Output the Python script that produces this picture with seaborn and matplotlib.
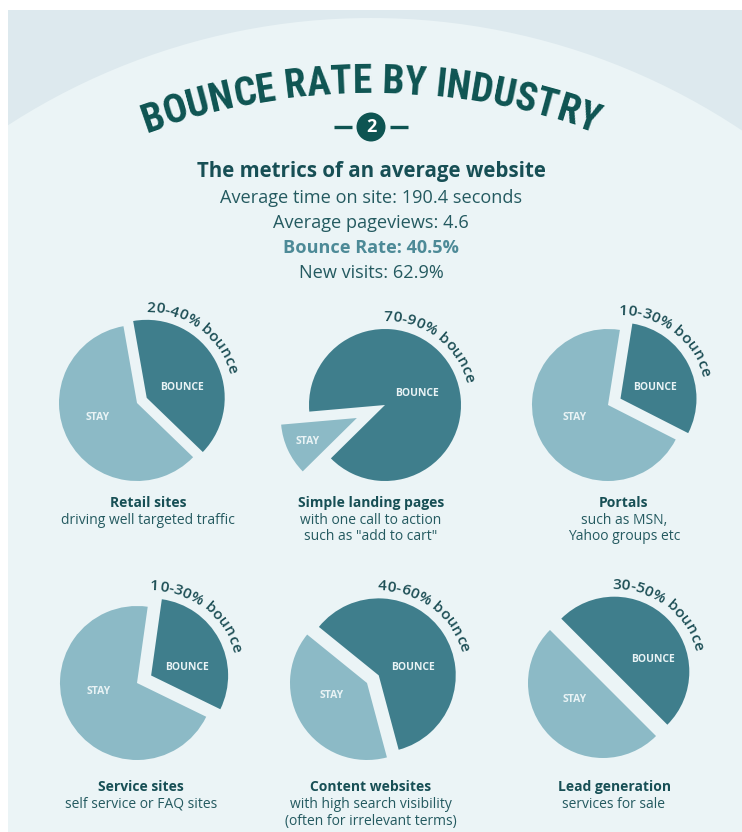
import matplotlib
matplotlib.use("Agg")
import numpy as np
import matplotlib.pyplot as plt
import seaborn as sns
from matplotlib.patches import Circle, Rectangle
from matplotlib.font_manager import FontProperties, fontManager
from matplotlib.textpath import TextToPath

# ---------------------------------------------------------------- data
title = "BOUNCE RATE BY INDUSTRY"
badge = "2"
headline = "The metrics of an average website"
metric_lines = [
    "Average time on site: 190.4 seconds",
    "Average pageviews: 4.6",
    "Bounce Rate: 40.5%",
    "New visits: 62.9%",
]
industries = [
    "Retail sites",
    "Simple landing pages",
    "Portals",
    "Service sites",
    "Content websites",
    "Lead generation",
]
descriptions = [
    ["driving well targeted traffic"],
    ["with one call to action", 'such as "add to cart"'],
    ["such as MSN,", "Yahoo groups etc"],
    ["self service or FAQ sites"],
    ["with high search visibility", "(often for irrelevant terms)"],
    ["services for sale"],
]
bounce_share = [0.40, 0.89, 0.30, 0.30, 0.60, 0.50]
range_labels = [
    "20-40% bounce",
    "70-90% bounce",
    "10-30% bounce",
    "10-30% bounce",
    "40-60% bounce",
    "30-50% bounce",
]
slice_labels = ["BOUNCE", "STAY"]

# ---------------------------------------------------------------- layout (pixels, y measured downwards)
W, H = 742, 832
pie_centers = [(137, 403), (385, 405), (608, 405), (137, 683), (367, 683), (603, 683)]
pie_radius = [78, 76, 76, 77, 77, 75]
start_angles = [100, 185, 81, 82, 141, 135]
explode_px = [(11, 0), (0, 31), (14, 0), (16, 0), (14, 0), (16, 0)]
caption_x = [148, 371, 624, 141, 371, 614]
caption_y = [503, 503, 503, 787, 787, 787]
bounce_label_off = [(45, -15), (32, -12), (47, -17), (50, -16), (46, -16), (50, -23)]
stay_label_off = [(-39, 14), (-77, 37), (-33, 12), (-38, 9), (-35, 12), (-28, 17)]
range_mid_angle = 53

# ---------------------------------------------------------------- style
sns.set_style("white")
plt.rcParams["font.family"] = ["Open Sans", "DejaVu Sans"]
bounce_color, stay_color = sns.color_palette(["#3f7e8c", "#8cbac6"])
outer_bg = "#dde9ee"
inner_bg = "#ebf4f6"
title_color = "#0e5452"
head_color = "#174f55"
body_color = "#245a60"
accent_color = "#4d8a97"
slice_text = "#e9f3f5"

PX_PER_PT = 100 / 72.0
t2p = TextToPath()

# pick a narrow face for the arched headline
installed = {f.name for f in fontManager.ttflist}
narrow_faces = [n for n in ("Roboto Condensed", "Open Sans Condensed", "Liberation Sans Narrow",
                            "Arial Narrow", "DejaVu Sans Condensed") if n in installed]
condensed_dejavu = any(f.name == "DejaVu Sans" and f.stretch in ("condensed", 87.5, "semi-condensed")
                       for f in fontManager.ttflist)
title_family = narrow_faces + ["DejaVu Sans"]


def Y(y):
    return H - y


def advances(s, prop):
    """Cumulative advance positions (px) of each character boundary in s."""
    pos = []
    for k in range(len(s) + 1):
        w = t2p.get_text_width_height_descent("|" + s[:k] + "|", prop, ismath=False)[0]
        pos.append(w * PX_PER_PT)
    pos = np.array(pos)
    return pos - pos[0]


def arc_text(ax, s, cx, cy, radius, mid_deg, prop, color, zorder=5, squeeze=1.0):
    """Write s clockwise along the top of a circle (data coords, y up)."""
    pos = advances(s, prop) * squeeze
    total = pos[-1]
    for i, ch in enumerate(s):
        if ch == " ":
            continue
        c = 0.5 * (pos[i] + pos[i + 1])
        theta = np.deg2rad(mid_deg) + (total / 2 - c) / radius
        x = cx + radius * np.cos(theta)
        y = cy + radius * np.sin(theta)
        ax.text(x, y, ch, fontproperties=prop, color=color,
                rotation=np.rad2deg(theta) - 90, rotation_mode="anchor",
                ha="center", va="baseline", zorder=zorder)


fig = plt.figure(figsize=(W / 100, H / 100), dpi=100)
fig.patch.set_facecolor("white")
ax = fig.add_axes([0, 0, 1, 1])

# background panel with the large pale dome
panel = Rectangle((8, 0), W - 8, H - 10, facecolor=outer_bg, edgecolor="none", zorder=0)
ax.add_patch(panel)
dome = Circle((371, Y(686)), 668, facecolor=inner_bg, edgecolor="none", zorder=0.5)
ax.add_patch(dome)
dome.set_clip_path(panel)

# arched title
title_prop = FontProperties(family=title_family, weight="bold", stretch="condensed", size=30)
narrow = bool(narrow_faces) or condensed_dejavu
squeeze = 1.0 if narrow else 0.86
natural = advances(title, title_prop)[-1] * squeeze
title_prop.set_size(30 * 458 / natural)
arc_text(ax, title, 371, Y(93 + 653), 653, 90, title_prop, title_color, squeeze=squeeze)

# numbered badge
ax.add_patch(Circle((371, Y(127)), 14.5, facecolor=title_color, edgecolor="none", zorder=3))
ax.text(371, Y(127), badge, color="white", fontsize=13, fontweight="bold",
        ha="center", va="center", zorder=4)
ax.plot([334, 352], [Y(127), Y(127)], color=title_color, lw=2.4, solid_capstyle="butt")
ax.plot([390, 408], [Y(127), Y(127)], color=title_color, lw=2.4, solid_capstyle="butt")

# headline block
ax.text(371, Y(172), headline, color=head_color, fontsize=14.8, fontweight="bold",
        ha="center", va="center")
for k, line in enumerate(metric_lines):
    bold = line.startswith("Bounce")
    ax.text(371, Y(198 + 25 * k), line, fontsize=13.1,
            color=accent_color if bold else body_color,
            fontweight="bold" if bold else "normal", ha="center", va="center")

# pies
range_prop = FontProperties(family=["Open Sans", "DejaVu Sans"], weight="semibold", size=11)
for i in range(len(industries)):
    cx, cy = pie_centers[i]
    r = pie_radius[i]
    b = bounce_share[i]
    wedges, _ = ax.pie([b, 1 - b], colors=[bounce_color, stay_color],
                       startangle=start_angles[i], counterclock=False,
                       radius=r, center=(cx, Y(cy)), explode=explode_px[i],
                       frame=True, wedgeprops=dict(linewidth=0))
    bx, by = wedges[0].center
    arc_text(ax, range_labels[i], bx, by, r + 8, range_mid_angle, range_prop, "#1c4e55")

    dx, dy = bounce_label_off[i]
    ax.text(cx + dx, Y(cy + dy), slice_labels[0], color=slice_text, fontsize=7.5,
            fontweight="bold", ha="center", va="center", zorder=4)
    dx, dy = stay_label_off[i]
    ax.text(cx + dx, Y(cy + dy), slice_labels[1], color=slice_text, fontsize=7.5,
            fontweight="bold", ha="center", va="center", zorder=4)

    ax.text(caption_x[i], Y(caption_y[i]), industries[i], color=head_color,
            fontsize=10, fontweight="bold", ha="center", va="center")
    for k, line in enumerate(descriptions[i]):
        ax.text(caption_x[i], Y(caption_y[i] + 17 * (k + 1)), line, color=body_color,
                fontsize=10, ha="center", va="center")

ax.set_xlim(0, W)
ax.set_ylim(0, H)
ax.set_aspect("equal")
ax.axis("off")
fig.savefig("out.png", dpi=100, facecolor=fig.get_facecolor())
